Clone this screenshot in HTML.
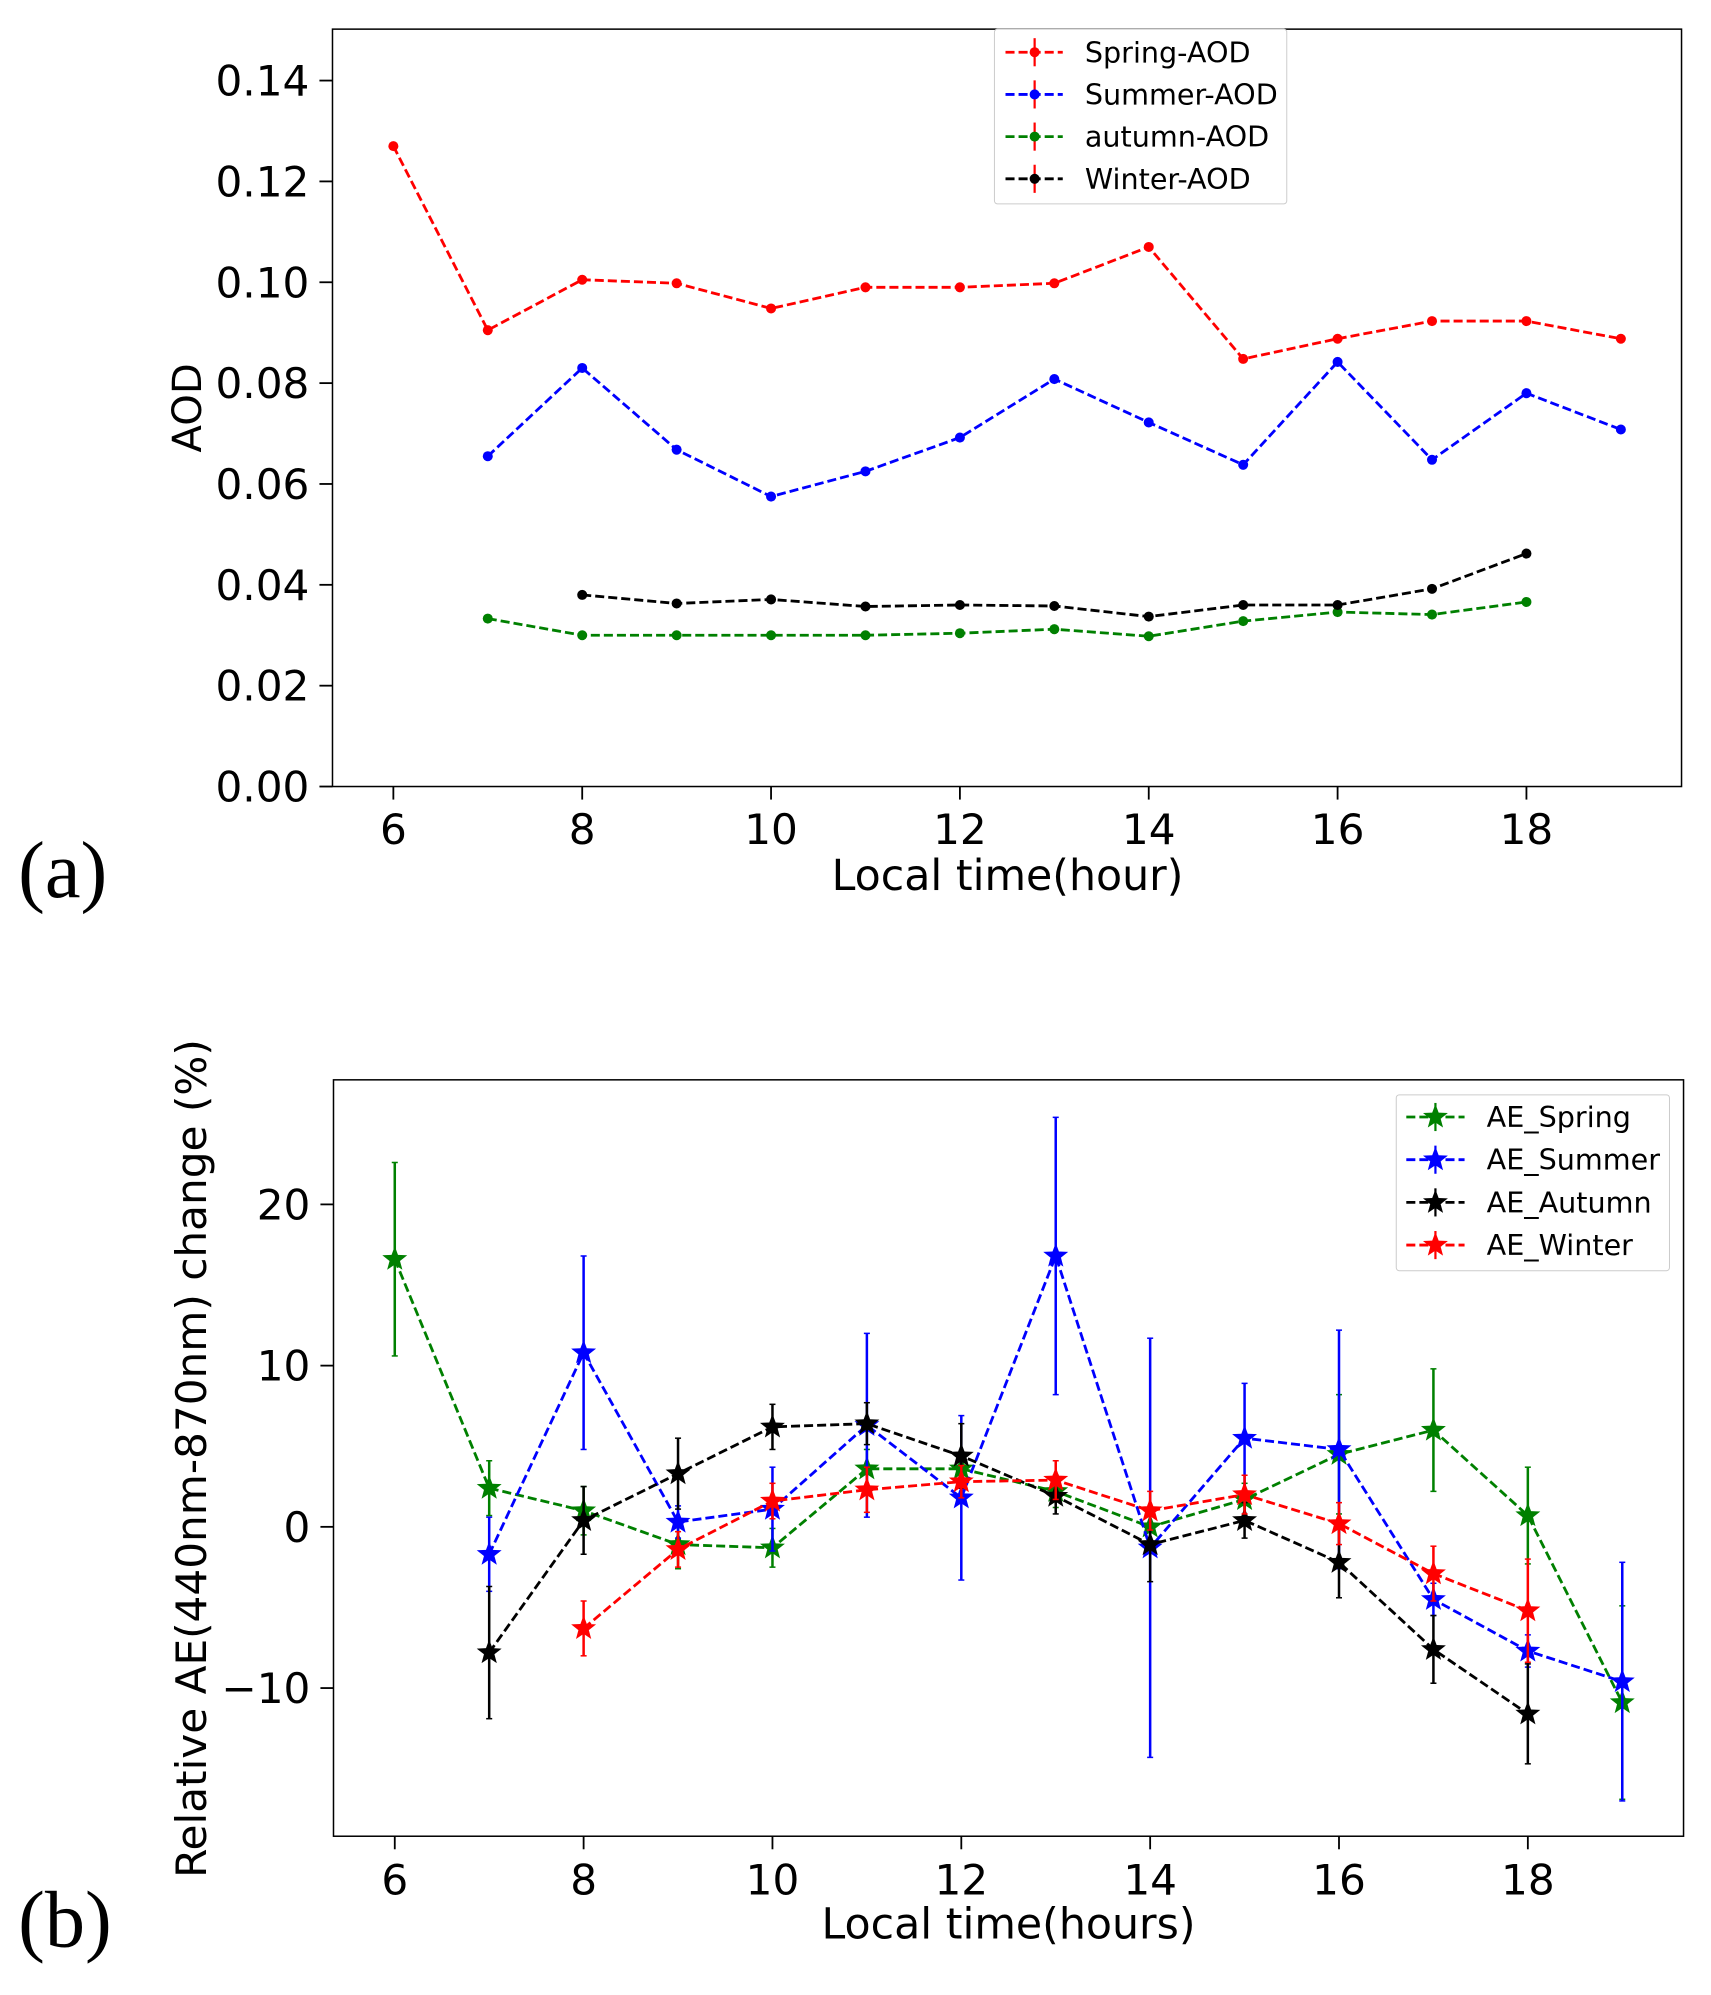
<!DOCTYPE html>
<html><head><meta charset="utf-8"><style>
html,body{margin:0;padding:0;background:#fff}
svg{display:block}
text{font-family:"DejaVu Sans","Liberation Sans",sans-serif}
text.serif{font-family:"Liberation Serif",serif}
</style></head><body>
<svg id="fig" width="1711" height="1995" viewBox="0 0 1711 1995" xmlns="http://www.w3.org/2000/svg">
<rect width="1711" height="1995" fill="#fff"/>
<g transform="scale(1.0045)">
<g id="pa"></g>
<g id="pb"></g>
</g>
</svg>
<script>
// Panel (a) data
const hoursA = [6,7,8,9,10,11,12,13,14,15,16,17,18,19];
const springAOD = [0.127,0.0905,0.1005,0.0998,0.0948,0.099,0.099,0.0998,0.107,0.0848,0.0888,0.0923,0.0923,0.0888];
const summerHours = [7,8,9,10,11,12,13,14,15,16,17,18,19];
const summerAOD = [0.0655,0.083,0.0668,0.0575,0.0625,0.0692,0.0808,0.0722,0.0638,0.0842,0.0648,0.078,0.0708];
const autumnHours = [7,8,9,10,11,12,13,14,15,16,17,18];
const autumnAOD = [0.0333,0.03,0.03,0.03,0.03,0.0304,0.0312,0.0298,0.0328,0.0346,0.0341,0.0366];
const winterHours = [8,9,10,11,12,13,14,15,16,17,18];
const winterAOD = [0.038,0.0363,0.0371,0.0357,0.036,0.0358,0.0337,0.036,0.036,0.0392,0.0462];
const aYTicks = ["0.00","0.02","0.04","0.06","0.08","0.10","0.12","0.14"];
const xTicks = [6,8,10,12,14,16,18];
// Panel (b) data
const bSpringHours = [6,7,8,9,10,11,12,13,14,15,16,17,18,19];
const bSpring = [16.6,2.4,1.0,-1.1,-1.3,3.6,3.6,2.2,0.0,1.7,4.5,6.0,0.7,-10.9];
const bSpringErr = [6,1.7,1.5,1.5,1.2,1.2,1.0,1.0,1.0,1.0,3.7,3.8,3.0,6.0];
const bSummerHours = [7,8,9,10,11,12,13,14,15,16,17,18,19];
const bSummer = [-1.7,10.8,0.3,1.1,6.3,1.8,16.8,-1.3,5.5,4.8,-4.5,-7.7,-9.6];
const bSummerErr = [2.3,6.0,1.0,2.6,5.7,5.1,8.6,13.0,3.4,7.4,1.0,1.0,7.4];
const bAutumnHours = [7,8,9,10,11,12,13,14,15,16,17,18];
const bAutumn = [-7.8,0.4,3.3,6.2,6.4,4.4,1.9,-1.1,0.4,-2.2,-7.6,-11.6];
const bAutumnErr = [4.1,2.1,2.2,1.4,1.3,2.0,1.1,2.3,1.1,2.2,2.1,3.1];
const bWinterHours = [8,9,10,11,12,13,14,15,16,17,18];
const bWinter = [-6.3,-1.4,1.6,2.3,2.8,2.9,1.0,2.0,0.2,-2.9,-5.2];
const bWinterErr = [1.7,1.1,1.1,1.4,1.0,1.2,1.2,1.2,1.3,1.7,3.2];
const bYTicks = [-10,0,10,20];

const NS="http://www.w3.org/2000/svg";
function mk(parent,tag,attrs,txt){const e=document.createElementNS(NS,tag);for(const k in attrs)e.setAttribute(k,attrs[k]);if(txt!==undefined)e.textContent=txt;parent.appendChild(e);return e;}

// ---- Panel A
const pa=document.getElementById('pa');
const axA=t=>391.6+(t-6)*94;
const ayA=v=>783-v/0.02*100.4;
let r=mk(pa,'rect',{x:331,y:29,width:1343,height:754,fill:'none',stroke:'#000','stroke-width':1.5});


aYTicks.forEach(s=>{const y=ayA(parseFloat(s));
 mk(pa,'line',{x1:318,x2:331,y1:y,y2:y,stroke:'#000','stroke-width':1.8});
 const t=mk(pa,'text',{x:308,y:y+15,'text-anchor':'end','font-size':42},s);
 
 });
xTicks.forEach(v=>{const x=axA(v);
 mk(pa,'line',{x1:x,x2:x,y1:783,y2:796,stroke:'#000','stroke-width':1.8});
 const t=mk(pa,'text',{x:x,y:840,'text-anchor':'middle','font-size':42},v);
 
 });
function seriesA(name,xs,ys,color){const g=mk(pa,'g',{});
 
 
 mk(g,'polyline',{points:xs.map((x,i)=>axA(x)+','+ayA(ys[i])).join(' '),fill:'none',stroke:color,'stroke-width':2.8,'stroke-dasharray':'9,4'});
 xs.forEach((x,i)=>mk(g,'circle',{cx:axA(x),cy:ayA(ys[i]),r:5,fill:color}));}
seriesA('spring-aod-line',hoursA,springAOD,'#ff0000');
seriesA('summer-aod-line',summerHours,summerAOD,'#0000ff');
seriesA('autumn-aod-line',autumnHours,autumnAOD,'#008000');
seriesA('winter-aod-line',winterHours,winterAOD,'#000000');
let t=mk(pa,'text',{x:0,y:0,'font-size':40,transform:'translate(200,406) rotate(-90)','text-anchor':'middle'},'AOD');


t=mk(pa,'text',{x:1003,y:886,'text-anchor':'middle','font-size':42.5},'Local time(hour)');


t=mk(pa,'text',{x:18,y:893,'font-size':80,'class':'serif'},'(a)');


// legend A
const lgA=mk(pa,'g',{});


mk(lgA,'rect',{x:990,y:29,width:291,height:174,fill:'#fff',stroke:'#ccc','stroke-width':1,rx:3});
[['Spring-AOD','#ff0000'],['Summer-AOD','#0000ff'],['autumn-AOD','#008000'],['Winter-AOD','#000000']].forEach((e,i)=>{
 const y=52+i*42;const g=mk(lgA,'g',{});
 
 
 mk(g,'line',{x1:1001,x2:1058,y1:y,y2:y,stroke:e[1],'stroke-width':2.8,'stroke-dasharray':'9,4'});
 mk(g,'line',{x1:1030,x2:1030,y1:y-14,y2:y+14,stroke:'#ff0000','stroke-width':2.2});
 mk(g,'circle',{cx:1030,cy:y,r:5,fill:e[1]});
 mk(g,'text',{x:1080,y:y+10,'font-size':28.5},e[0]);});

// ---- Panel B
const pb=document.getElementById('pb');
const axB=t=>393+(t-6)*94;
const ayB=v=>1520-v*16.05;
r=mk(pb,'rect',{x:332,y:1075,width:1344,height:753,fill:'none',stroke:'#000','stroke-width':1.5});


bYTicks.forEach(v=>{const y=ayB(v);
 mk(pb,'line',{x1:319,x2:332,y1:y,y2:y,stroke:'#000','stroke-width':1.8});
 const t=mk(pb,'text',{x:309,y:y+15,'text-anchor':'end','font-size':42},v<0?'\u2212'+(-v):v);
 
 });
xTicks.forEach(v=>{const x=axB(v);
 mk(pb,'line',{x1:x,x2:x,y1:1828,y2:1841,stroke:'#000','stroke-width':1.8});
 const t=mk(pb,'text',{x:x,y:1886,'text-anchor':'middle','font-size':42},v);
 
 });
function star(cx,cy,R){let p=[];for(let i=0;i<10;i++){const a=-Math.PI/2+i*Math.PI/5;const rr=i%2?R*0.42:R;p.push((cx+rr*Math.cos(a)).toFixed(1)+','+(cy+rr*Math.sin(a)).toFixed(1));}return p.join(' ');}
function seriesB(name,xs,ys,es,color){const g=mk(pb,'g',{});
 
 
 xs.forEach((x,i)=>{const X=axB(x);mk(g,'line',{x1:X,x2:X,y1:ayB(ys[i]+es[i]),y2:ayB(ys[i]-es[i]),stroke:color,'stroke-width':2.5});
  mk(g,'line',{x1:X-3,x2:X+3,y1:ayB(ys[i]+es[i]),y2:ayB(ys[i]+es[i]),stroke:color,'stroke-width':1.5});
  mk(g,'line',{x1:X-3,x2:X+3,y1:ayB(ys[i]-es[i]),y2:ayB(ys[i]-es[i]),stroke:color,'stroke-width':1.5});});
 mk(g,'polyline',{points:xs.map((x,i)=>axB(x)+','+ayB(ys[i])).join(' '),fill:'none',stroke:color,'stroke-width':2.8,'stroke-dasharray':'9,4'});
 xs.forEach((x,i)=>mk(g,'polygon',{points:star(axB(x),ayB(ys[i]),13),fill:color}));}
seriesB('ae-spring-line',bSpringHours,bSpring,bSpringErr,'#008000');
seriesB('ae-summer-line',bSummerHours,bSummer,bSummerErr,'#0000ff');
seriesB('ae-autumn-line',bAutumnHours,bAutumn,bAutumnErr,'#000000');
seriesB('ae-winter-line',bWinterHours,bWinter,bWinterErr,'#ff0000');
t=mk(pb,'text',{x:0,y:0,'font-size':42,transform:'translate(205,1452) rotate(-90)','text-anchor':'middle'},'Relative AE(440nm-870nm) change (%)');


t=mk(pb,'text',{x:1004,y:1930,'text-anchor':'middle','font-size':42.5},'Local time(hours)');


t=mk(pb,'text',{x:18,y:1938,'font-size':80,'class':'serif'},'(b)');


const lgB=mk(pb,'g',{});


mk(lgB,'rect',{x:1390,y:1090,width:272,height:175,fill:'#fff',stroke:'#ccc','stroke-width':1,rx:3});
[['AE_Spring','#008000'],['AE_Summer','#0000ff'],['AE_Autumn','#000000'],['AE_Winter','#ff0000']].forEach((e,i)=>{
 const y=1112+i*42.5;const g=mk(lgB,'g',{});
 
 
 mk(g,'line',{x1:1400,x2:1458,y1:y,y2:y,stroke:e[1],'stroke-width':2.8,'stroke-dasharray':'9,4'});
 mk(g,'line',{x1:1429,x2:1429,y1:y-14,y2:y+14,stroke:e[1],'stroke-width':2.2});
 mk(g,'polygon',{points:star(1429,y,13),fill:e[1]});
 mk(g,'text',{x:1480,y:y+10,'font-size':28.5},e[0]);});
</script>
</body></html>
